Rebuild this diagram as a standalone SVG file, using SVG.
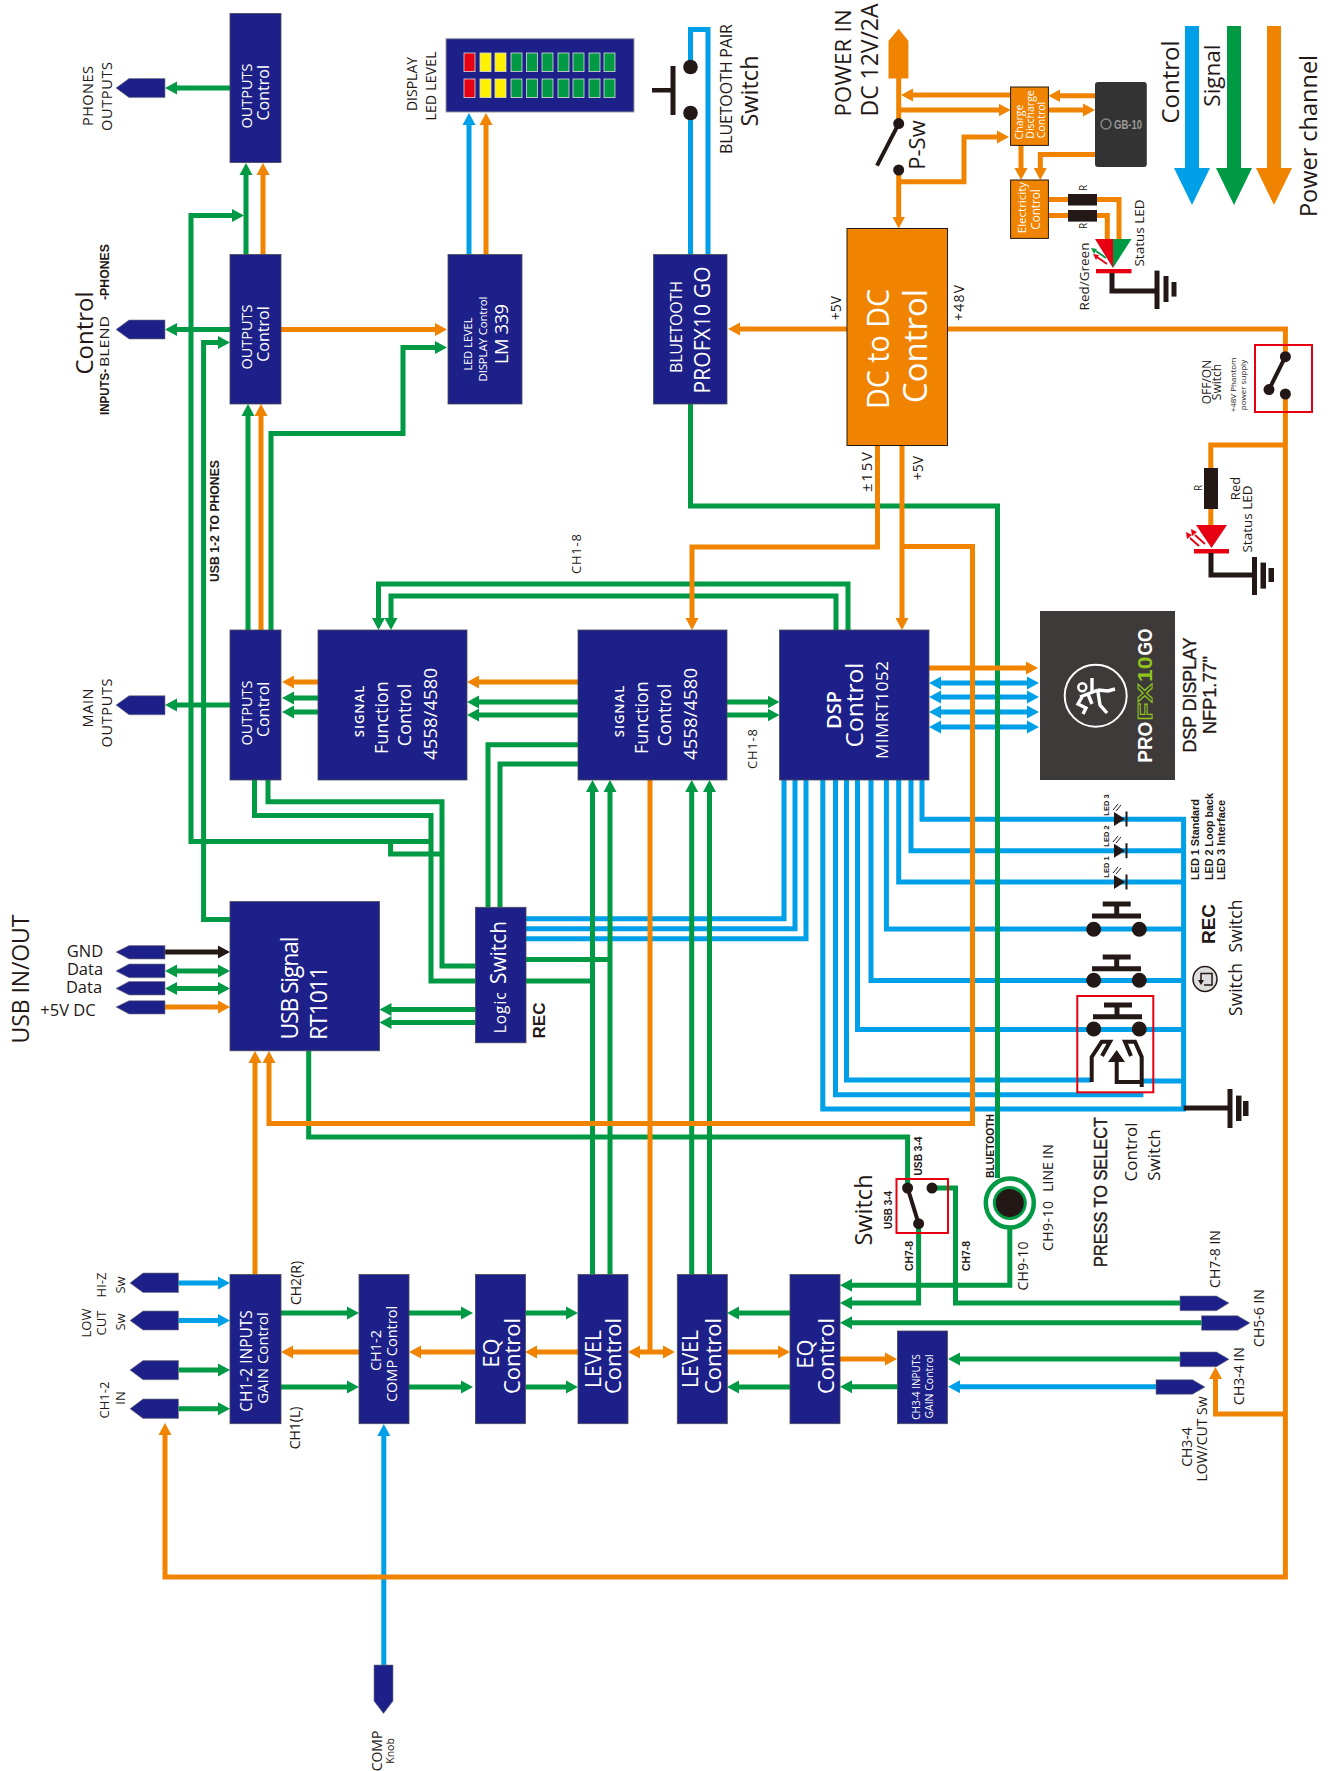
<svg xmlns="http://www.w3.org/2000/svg" width="1330" height="1771" viewBox="0 0 1330 1771">
<style>
text{font-family:"Open Sans","Noto Sans",sans-serif;text-anchor:middle;fill:#231815}
text.w{fill:#fff}
text.b{font-family:"Liberation Sans",Arial,sans-serif;font-weight:700}
.box{fill:#1d2088;stroke:#4a4a55;stroke-width:.8}
.obox{fill:#f08300;stroke:#231815;stroke-width:1}
.tag{fill:#1d2088;stroke:#777;stroke-width:.6}
.g,.o,.u,.k{fill:none;stroke-width:5}
.g{stroke:#009944}.o{stroke:#f08300}.u{stroke:#00a0e9}.k{stroke:#231815}
.g.a{marker-end:url(#mg)}.o.a{marker-end:url(#mo)}.u.a{marker-end:url(#mu)}.k.a{marker-end:url(#mk)}
.g.d{marker-start:url(#mg);marker-end:url(#mg)}.o.d{marker-start:url(#mo);marker-end:url(#mo)}.u.d{marker-start:url(#mu);marker-end:url(#mu)}
.dot{fill:#231815}
.red{fill:none;stroke:#e60012;stroke-width:2}
.blk{fill:#231815}
.sym{fill:none;stroke:#231815;stroke-width:4}
</style>
<defs>
<marker id="mg" markerUnits="userSpaceOnUse" markerWidth="14" markerHeight="15" refX="6" refY="7" orient="auto-start-reverse"><path d="M0 .5L12 7L0 13.5z" fill="#009944"/></marker>
<marker id="mo" markerUnits="userSpaceOnUse" markerWidth="14" markerHeight="15" refX="6" refY="7" orient="auto-start-reverse"><path d="M0 .5L12 7L0 13.5z" fill="#f08300"/></marker>
<marker id="mu" markerUnits="userSpaceOnUse" markerWidth="14" markerHeight="15" refX="6" refY="7" orient="auto-start-reverse"><path d="M0 .5L12 7L0 13.5z" fill="#00a0e9"/></marker>
<marker id="mk" markerUnits="userSpaceOnUse" markerWidth="14" markerHeight="15" refX="6" refY="7" orient="auto-start-reverse"><path d="M0 .5L12 7L0 13.5z" fill="#231815"/></marker>
</defs>
<g id="connectors">
<g id="control-lines">
<path class="u" d="M690.5 254.5V113M690.5 67V29.5H708V254.5"/>
<path class="u a" d="M469 254.5V119"/>
<path class="u" d="M526 918.8H784V780M526 928.7H795V780M526 938.7H806V780"/>
<path class="u" d="M922 780V819.3H1183.6V1109H822.8V780M911 780V850.7H1183.6M898.7 780V882H1183.6M886.4 780V929H1183.6M871 780V980.4H1183.6M857.5 780V1029.4H1183.6M846.5 780V1080H1091M1143 1081H1183.6M835.5 780V1094.8H1143.4"/>
<path class="u d" d="M935 683H1033"/><path class="u d" d="M935 697H1033"/><path class="u d" d="M935 712H1033"/><path class="u d" d="M935 727H1033"/>
<path class="u a" d="M178.5 1283H224"/><path class="u a" d="M178.5 1320.4H224"/>
<path class="u a" d="M383.8 1665V1430"/>
<path class="u a" d="M1156 1386.7H954"/>
</g>
<g id="signal-lines">
<path class="g a" d="M230 88H171"/><path class="g a" d="M230 329.5H171"/><path class="g a" d="M246 254.5V169"/>
<path class="g a" d="M431 841.5H191V215.5H238"/><path class="g" d="M442 854H390.6V841.5"/>
<path class="g a" d="M230 919.6H203.6V342.5H224"/>
<path class="g a" d="M248 630V410"/><path class="g a" d="M271 630V433.6H403V347.5H441"/>
<path class="g a" d="M230 705H171"/>
<path class="g a" d="M318 698H288"/><path class="g a" d="M318 712H288"/>
<path class="g a" d="M578 702H473"/><path class="g a" d="M578 715H473"/>
<path class="g a" d="M848 630V584H378.5V624"/><path class="g a" d="M836 630V596H391V624"/>
<path class="g" d="M578 744.7H488V907M578 764H500V907"/>
<path class="g a" d="M727 702H773.5"/><path class="g a" d="M727 715H773.5"/>
<path class="g" d="M254.5 780V815.5H431V981H475.4M268 780V801.7H442V966H475.4"/>
<path class="g a" d="M475.4 1009.5H385.5"/><path class="g a" d="M475.4 1022.5H385.5"/>
<path class="g" d="M526 959.4H610M526 981H592.5"/>
<path class="g a" d="M592.5 1274.5V786"/><path class="g a" d="M610 1274.5V786"/><path class="g a" d="M691.7 1274.5V786"/><path class="g a" d="M709.5 1274.5V786"/>
<path class="g" d="M308.7 1051V1137H907.6V1188"/>
<path class="g" d="M690.5 404V506H997.5V1178"/>
<path class="g d" d="M171 971H224"/><path class="g d" d="M171 988.4H224"/>
<path class="g a" d="M178.5 1370H224"/><path class="g a" d="M178.5 1408.8H224"/>
<path class="g a" d="M281 1313H353"/><path class="g a" d="M281 1387H353"/><path class="g a" d="M409 1313H467"/><path class="g a" d="M409 1387H467"/><path class="g a" d="M525.5 1313H572"/><path class="g a" d="M525.5 1387H572"/>
<path class="g a" d="M790 1313H733"/><path class="g a" d="M790 1387H733"/>
<path class="g a" d="M1009.8 1228V1285.3H846"/><path class="g a" d="M918.6 1223.7V1303H846"/>
<path class="g" d="M932 1188H955.5V1303H1180"/>
<path class="g a" d="M1201.5 1322.7H846"/><path class="g a" d="M897.4 1386.7H846"/><path class="g a" d="M1180 1359H954"/>
</g>
<g id="power-lines">
<path class="k a" d="M165 952H224"/>
<path class="o a" d="M263 254.5V169"/><path class="o a" d="M261 630V410"/><path class="o a" d="M281 329.5H441"/><path class="o a" d="M486 254.5V119"/>
<path class="o a" d="M318 682H288"/><path class="o a" d="M578 682H473"/>
<path class="o a" d="M165 1007H224"/>
<path class="o a" d="M359 1352H287"/><path class="o a" d="M475 1352H415"/><path class="o a" d="M578 1352H531"/>
<path class="o d" d="M634 1352H669"/><path class="o" d="M650 780V1352"/>
<path class="o a" d="M727 1352H784"/><path class="o a" d="M840 1359H891"/>
<path class="o a" d="M1285.4 1414H1215.5V1373"/>
<path class="o" d="M947.5 329H1285.4V357"/><path class="o a" d="M1285.4 394V1577H165V1429"/>
<path class="o a" d="M847 329H734"/>
<path class="o a" d="M877.5 445.5V547H692V624"/>
<path class="o a" d="M902 445.5V624"/><path class="o a" d="M902 546.5H972.5V1123.5H269V1057"/>
<path class="o a" d="M255 1274.5V1057"/>
<path class="o a" d="M929 668H1032"/>
<path class="o" d="M898.7 78V124"/><path class="o a" d="M898.7 170V222.5"/><path class="o a" d="M898.7 181.8H964V137H1003"/>
<path class="o a" d="M1010.6 95H907"/><path class="o a" d="M898.7 110H1004.6"/><path class="o a" d="M1095 95.7H1054.4"/><path class="o a" d="M1048.4 110H1089"/>
<path class="o a" d="M1021 145.4V174"/><path class="o a" d="M1095 154.6H1040.3V174"/>
<path class="o" d="M1048.4 199.4H1119V240M1048.4 215.5H1107.3V240"/>
<path class="o" d="M1285.4 445H1210.8V525"/>
</g>
</g>
<g id="legend">
<polygon fill="#00a0e9" points="1185,26 1199,26 1199,168 1210,168 1192,205 1174,168 1185,168"/>
<polygon fill="#009944" points="1227,26 1241,26 1241,168 1252,168 1234,205 1216,168 1227,168"/>
<polygon fill="#f08300" points="1267,26 1281,26 1281,168 1292,168 1274,205 1256,168 1267,168"/>
<text font-size="24" transform="translate(1179.4 82) rotate(-90)">Control</text>
<text font-size="22.5" transform="translate(1219.7 75.6) rotate(-90)">Signal</text>
<text font-size="23.5" transform="translate(1317 136) rotate(-90)">Power channel</text>
</g>
<g id="outputs-phones"><rect class="box" x="230" y="13.4" width="51" height="149.2"/>
<text class="w" font-size="14.5" transform="translate(252 96) rotate(-90)">OUTPUTS</text><text class="w" font-size="16" transform="translate(268.5 92.8) rotate(-90)">Control</text></g>
<g id="outputs-blend"><rect class="box" x="230" y="254.5" width="51" height="149.5"/>
<text class="w" font-size="14.5" transform="translate(252 337) rotate(-90)">OUTPUTS</text><text class="w" font-size="16" transform="translate(268.5 334) rotate(-90)">Control</text></g>
<g id="outputs-main"><rect class="box" x="230" y="630" width="51" height="150"/>
<text class="w" font-size="14.5" transform="translate(252 713) rotate(-90)">OUTPUTS</text><text class="w" font-size="16" transform="translate(268.5 709.4) rotate(-90)">Control</text></g>
<g id="tag-phones"><polygon class="tag" points="116,88 129,78.5 165,78.5 165,97.6 129,97.6"/>
<text font-size="14.5" transform="translate(92.5 96) rotate(-90)" textLength="60" lengthAdjust="spacing">PHONES</text><text font-size="14.5" transform="translate(112.4 96.5) rotate(-90)" textLength="69" lengthAdjust="spacing">OUTPUTS</text></g>
<g id="tag-blend"><polygon class="tag" points="116,329.5 129,320 165,320 165,339 129,339"/>
<text font-size="24" transform="translate(92.5 333) rotate(-90)">Control</text>
<text class="b" font-size="12" transform="translate(109 392) rotate(-90)" textLength="46" lengthAdjust="spacingAndGlyphs">INPUTS-</text><text font-size="13.5" transform="translate(109 341.5) rotate(-90)" textLength="51" lengthAdjust="spacingAndGlyphs">BLEND</text><text class="b" font-size="12" transform="translate(109 272) rotate(-90)" textLength="56" lengthAdjust="spacingAndGlyphs">-PHONES</text></g>
<g id="tag-main"><polygon class="tag" points="116,705 129,695.7 165,695.7 165,714.8 129,714.8"/>
<text font-size="14.5" transform="translate(92.5 708) rotate(-90)" textLength="39" lengthAdjust="spacing">MAIN</text><text font-size="14.5" transform="translate(112.4 713) rotate(-90)" textLength="69" lengthAdjust="spacing">OUTPUTS</text></g>
<g id="led-display"><rect x="446" y="38.7" width="188" height="73.3" fill="#1d2088" stroke="#999" stroke-width="1"/>
<g stroke="#ddd" stroke-width=".8">
<rect x="464" y="53" width="11" height="18.6" fill="#e60012"/><rect x="480" y="53" width="11" height="18.6" fill="#fff100"/><rect x="495" y="53" width="11" height="18.6" fill="#fff100"/><rect x="511" y="53" width="11" height="18.6" fill="#009944"/><rect x="526.5" y="53" width="11" height="18.6" fill="#009944"/><rect x="542" y="53" width="11" height="18.6" fill="#009944"/><rect x="558" y="53" width="11" height="18.6" fill="#009944"/><rect x="573" y="53" width="11" height="18.6" fill="#009944"/><rect x="589" y="53" width="11" height="18.6" fill="#009944"/><rect x="604" y="53" width="11" height="18.6" fill="#009944"/>
<rect x="464" y="79" width="11" height="18.6" fill="#e60012"/><rect x="480" y="79" width="11" height="18.6" fill="#fff100"/><rect x="495" y="79" width="11" height="18.6" fill="#fff100"/><rect x="511" y="79" width="11" height="18.6" fill="#009944"/><rect x="526.5" y="79" width="11" height="18.6" fill="#009944"/><rect x="542" y="79" width="11" height="18.6" fill="#009944"/><rect x="558" y="79" width="11" height="18.6" fill="#009944"/><rect x="573" y="79" width="11" height="18.6" fill="#009944"/><rect x="589" y="79" width="11" height="18.6" fill="#009944"/><rect x="604" y="79" width="11" height="18.6" fill="#009944"/>
</g>
<text font-size="14" transform="translate(417 84) rotate(-90)">DISPLAY</text><text font-size="14" transform="translate(435.5 86) rotate(-90)" textLength="69" lengthAdjust="spacing">LED LEVEL</text></g>
<g id="lm339"><rect class="box" x="448" y="254.5" width="74" height="149.5"/>
<text class="w" font-size="11" transform="translate(472 344) rotate(-90)" textLength="53" lengthAdjust="spacing">LED LEVEL</text><text class="w" font-size="11.5" transform="translate(487 339) rotate(-90)" textLength="85" lengthAdjust="spacing">DISPLAY Control</text><text class="w" font-size="18.5" transform="translate(507.6 334) rotate(-90)" textLength="60" lengthAdjust="spacing">LM 339</text></g>
<g id="bluetooth"><rect class="box" x="653.5" y="254.5" width="73.5" height="149.5"/>
<text class="w" font-size="16" transform="translate(682 327) rotate(-90)" textLength="92" lengthAdjust="spacing">BLUETOOTH</text><text class="w" font-size="21" transform="translate(709.5 330) rotate(-90)" textLength="127" lengthAdjust="spacing">PROFX10 GO</text></g>
<g id="bt-pair-switch"><circle class="dot" cx="690.5" cy="67" r="7.3"/><circle class="dot" cx="690.5" cy="113" r="7.3"/>
<rect class="blk" x="670.5" y="66" width="5" height="49"/><rect class="blk" x="652" y="88" width="20" height="4.5"/>
<text font-size="16" transform="translate(732 89) rotate(-90)" textLength="130" lengthAdjust="spacing">BLUETOOTH PAIR</text><text font-size="23.5" transform="translate(757.5 91) rotate(-90)">Switch</text></g>
<g id="dc-dc"><rect class="obox" x="847" y="228.5" width="100.5" height="217"/>
<text class="w" font-size="31" transform="translate(888.5 349) rotate(-90)" textLength="120" lengthAdjust="spacingAndGlyphs">DC to DC</text><text class="w" font-size="33" transform="translate(926.6 346) rotate(-90)">Control</text>
<text font-size="14" transform="translate(841 308) rotate(-90)">+5V</text><text font-size="14" transform="translate(964 303) rotate(-90)" textLength="36" lengthAdjust="spacing">+48V</text><text font-size="15" transform="translate(871.5 472) rotate(-90)" textLength="40" lengthAdjust="spacing">±15V</text><text font-size="14" transform="translate(923 468) rotate(-90)">+5V</text></g>
<g id="power-in"><polygon fill="#f08300" points="898.7,28.7 908.4,41 908.4,78.5 888.5,78.5 888.5,41"/>
<text font-size="22" transform="translate(850.7 63) rotate(-90)" textLength="107" lengthAdjust="spacing">POWER IN</text><text font-size="23" transform="translate(878 60) rotate(-90)" textLength="113" lengthAdjust="spacing">DC 12V/2A</text></g>
<g id="p-sw"><circle class="dot" cx="898.7" cy="123.6" r="5.5"/><circle class="dot" cx="898.7" cy="170" r="5.5"/><path class="k" style="stroke-width:4" d="M898.7 123.6L877 165.7"/>
<text font-size="22" transform="translate(924.5 145) rotate(-90)">P-Sw</text></g>
<g id="charge"><rect class="obox" x="1010.6" y="87" width="37.8" height="58.4"/>
<text class="w" font-size="10.5" transform="translate(1022.5 122) rotate(-90)">Charge</text><text class="w" font-size="10.5" transform="translate(1034 114.5) rotate(-90)">Discharge</text><text class="w" font-size="10.5" transform="translate(1044.6 120) rotate(-90)">Control</text></g>
<g id="battery"><rect x="1095" y="82" width="51.8" height="85" rx="3" fill="#333"/><circle cx="1106" cy="124" r="5" fill="none" stroke="#888" stroke-width="1.5"/>
<text class="b" font-size="12.5" style="fill:#999" x="1128" y="128.5" textLength="28" lengthAdjust="spacingAndGlyphs">GB-10</text></g>
<g id="electricity"><rect class="obox" x="1010.6" y="180" width="37.8" height="58.4"/>
<text class="w" font-size="11.5" transform="translate(1025.5 207.6) rotate(-90)">Electricity</text><text class="w" font-size="11.7" transform="translate(1039.5 209.5) rotate(-90)">Control</text></g>
<g id="status-led">
<rect class="blk" x="1068" y="194" width="29" height="11.5"/><rect class="blk" x="1068" y="210" width="29" height="11.6"/>
<polygon fill="#e60012" points="1095,239 1113,239 1113,268"/><polygon fill="#009944" points="1113,239 1131.5,239 1113,268"/>
<rect x="1096" y="269" width="35.5" height="4.3" fill="#e60012"/>
<path d="M1107 264L1097 257" stroke="#e60012" stroke-width="1.8" fill="none"/><path d="M1106 258L1096 251" stroke="#009944" stroke-width="1.8" fill="none"/>
<polygon fill="#e60012" points="1093,254 1099,255 1096,260"/><polygon fill="#009944" points="1091,248 1097,249 1094,254"/>
<path class="k" d="M1112 273V291H1157"/><rect class="blk" x="1154.5" y="270.6" width="5" height="38.4"/><rect class="blk" x="1163.5" y="276" width="5" height="26"/><rect class="blk" x="1171.5" y="282" width="5" height="14.6"/>
<text font-size="10" transform="translate(1087 188) rotate(-90)">R</text><text font-size="10" transform="translate(1087 226) rotate(-90)">R</text>
<text font-size="13.5" transform="translate(1144 233) rotate(-90)">Status LED</text><text font-size="13.5" transform="translate(1089 276.5) rotate(-90)">Red/Green</text></g>
<g id="phantom-switch"><rect class="red" x="1255" y="345" width="57" height="67"/><circle class="dot" cx="1285.4" cy="356.7" r="5.5"/><circle class="dot" cx="1285.4" cy="394" r="5.5"/><circle class="dot" cx="1269" cy="389.6" r="5.5"/><path class="k" d="M1269 389.6L1285.4 356.7" style="stroke-width:4"/>
<text font-size="12" transform="translate(1211 382) rotate(-90)">OFF/ON</text><text font-size="12" transform="translate(1221.4 382) rotate(-90)">Switch</text><text font-size="8" transform="translate(1236 385) rotate(-90)">+48V Phantom</text><text font-size="8" transform="translate(1246 385) rotate(-90)">power supply</text></g>
<g id="red-led"><rect class="blk" x="1204" y="468" width="14" height="41"/>
<polygon fill="#e60012" points="1196,525 1227,525 1211.5,548"/><rect x="1194" y="549" width="35" height="4.5" fill="#e60012"/>
<path d="M1205 544L1195 535M1199 546L1190 538" stroke="#e60012" stroke-width="1.8" fill="none"/><polygon fill="#e60012" points="1191,529 1197,532 1192,536"/><polygon fill="#e60012" points="1186,532 1192,535 1187,539"/>
<path class="k" d="M1211 553V575H1254.5"/><rect class="blk" x="1252" y="557" width="5" height="38"/><rect class="blk" x="1260.5" y="562.6" width="5.5" height="26"/><rect class="blk" x="1268.5" y="568" width="5.5" height="14"/>
<text font-size="10" transform="translate(1202 488) rotate(-90)">R</text><text font-size="13" transform="translate(1239.6 488.5) rotate(-90)">Red</text><text font-size="13.5" transform="translate(1252 519) rotate(-90)">Status LED</text></g>
<g id="signal1"><rect class="box" x="318" y="630" width="149" height="150"/>
<text class="w" font-size="13" style="font-weight:600;letter-spacing:1px" transform="translate(364 711) rotate(-90)">SIGNAL</text><text class="w" font-size="18" transform="translate(388 717.6) rotate(-90)">Function</text><text class="w" font-size="18" transform="translate(411.4 715) rotate(-90)">Control</text><text class="w" font-size="18.5" transform="translate(436.8 714) rotate(-90)" textLength="92" lengthAdjust="spacing">4558/4580</text></g>
<g id="signal2"><rect class="box" x="578" y="630" width="149" height="150"/>
<text class="w" font-size="13" style="font-weight:600;letter-spacing:1px" transform="translate(624 711) rotate(-90)">SIGNAL</text><text class="w" font-size="18" transform="translate(648 717.6) rotate(-90)">Function</text><text class="w" font-size="18" transform="translate(671.4 715) rotate(-90)">Control</text><text class="w" font-size="18.5" transform="translate(696.8 714) rotate(-90)" textLength="92" lengthAdjust="spacing">4558/4580</text></g>
<g id="dsp"><rect class="box" x="779.5" y="630" width="149.5" height="150"/>
<text class="w" font-size="20" style="font-weight:600" transform="translate(841 710) rotate(-90)">DSP</text><text class="w" font-size="24.5" transform="translate(863 705) rotate(-90)">Control</text><text class="w" font-size="17" transform="translate(887.6 710) rotate(-90)" textLength="98" lengthAdjust="spacing">MIMRT1052</text></g>
<text font-size="13" transform="translate(581 554) rotate(-90)" textLength="40" lengthAdjust="spacing">CH1-8</text>
<text font-size="13" transform="translate(756.6 749) rotate(-90)" textLength="40" lengthAdjust="spacing">CH1-8</text>
<text class="b" font-size="12" transform="translate(219 521) rotate(-90)" textLength="122" lengthAdjust="spacingAndGlyphs">USB 1-2 TO PHONES</text>
<g id="dsp-display"><rect x="1040" y="611" width="135" height="169" fill="#3e3a39"/>
<circle cx="1095.7" cy="695.7" r="31" fill="none" stroke="#fff" stroke-width="2"/>
<circle cx="1082.3" cy="687.3" r="4" fill="none" stroke="#fff" stroke-width="2.5"/>
<path d="M1080 697L1098 690M1092 691V678M1098 690L1108 691L1115 689M1098 692L1100 705L1107 713M1082 697L1078 704L1086 708L1083 714M1088 694L1092 704" fill="none" stroke="#fff" stroke-width="3.4"/>
<text class="b" font-size="21" style="fill:#fff;text-anchor:start" transform="translate(1151.6 762.7) rotate(-90)" textLength="41" lengthAdjust="spacingAndGlyphs">PRO</text>
<text class="b" font-size="21" style="fill:none;stroke:#8fc31f;stroke-width:1;text-anchor:start" transform="translate(1151.6 720.5) rotate(-90)" textLength="37" lengthAdjust="spacingAndGlyphs">FX</text>
<text class="b" font-size="21" style="fill:#8fc31f;text-anchor:start" transform="translate(1151.6 682) rotate(-90)" textLength="25.5" lengthAdjust="spacingAndGlyphs">10</text>
<text class="b" font-size="21" style="fill:#fff;text-anchor:start" transform="translate(1151.6 655.5) rotate(-90)" textLength="27" lengthAdjust="spacingAndGlyphs">GO</text>
<text class="b" font-size="19" style="font-weight:400;stroke:#231815;stroke-width:.35" transform="translate(1196 695) rotate(-90)" textLength="115" lengthAdjust="spacingAndGlyphs">DSP DISPLAY</text><text class="b" font-size="19" style="font-weight:400;stroke:#231815;stroke-width:.35" transform="translate(1216 695) rotate(-90)" textLength="78" lengthAdjust="spacingAndGlyphs">NFP1.77"</text></g>
<g id="usb-io">
<polygon class="tag" points="116,952 129,945.6 165,945.6 165,959 129,959"/><polygon class="tag" points="116,971 129,964 165,964 165,977.7 129,977.7"/><polygon class="tag" points="116,988.4 129,981.5 165,981.5 165,995 129,995"/><polygon class="tag" points="116,1007 129,1000.7 165,1000.7 165,1014 129,1014"/>
<text font-size="23" transform="translate(29 979) rotate(-90)" textLength="129" lengthAdjust="spacing">USB IN/OUT</text>
<text font-size="16.5" x="85" y="957">GND</text><text font-size="16.5" x="85" y="975">Data</text><text font-size="16.5" x="84" y="993.4">Data</text><text font-size="16.5" x="68" y="1016.4">+5V DC</text></g>
<g id="usb-signal"><rect class="box" x="230" y="901.6" width="149.5" height="149.2"/>
<text class="w" font-size="23" transform="translate(298 988) rotate(-90)" textLength="103" lengthAdjust="spacing">USB Signal</text><text class="w" font-size="23" transform="translate(326.5 1003) rotate(-90)" textLength="74" lengthAdjust="spacing">RT1011</text></g>
<g id="logic-switch"><rect class="box" x="475.4" y="907.3" width="50.6" height="135.5"/>
<text class="w" font-size="15.5" transform="translate(506 1012.8) rotate(-90)" textLength="41" lengthAdjust="spacing">Logic</text><text class="w" font-size="22" transform="translate(506 952.5) rotate(-90)" textLength="63" lengthAdjust="spacingAndGlyphs">Switch</text>
<text class="b" font-size="17" transform="translate(545 1020.5) rotate(-90)">REC</text></g>
<g id="led-indicators">
<g id="led3"><polygon class="blk" points="1114,812 1114,826 1125,819"/><rect class="blk" x="1125.5" y="811.5" width="2" height="15"/><path d="M1113 810l5-6M1116 811l5-6" stroke="#231815" fill="none"/></g>
<g id="led2"><polygon class="blk" points="1114,843.7 1114,857.7 1125,850.7"/><rect class="blk" x="1125.5" y="843.2" width="2" height="15"/><path d="M1113 842l5-6M1116 843l5-6" stroke="#231815" fill="none"/></g>
<g id="led1"><polygon class="blk" points="1114,875 1114,889 1125,882"/><rect class="blk" x="1125.5" y="874.5" width="2" height="15"/><path d="M1113 873l5-6M1116 874l5-6" stroke="#231815" fill="none"/></g>
<text class="b" font-size="7.5" transform="translate(1109.3 805) rotate(-90)">LED 3</text><text class="b" font-size="7.5" transform="translate(1109.3 836) rotate(-90)">LED 2</text><text class="b" font-size="7.5" transform="translate(1109.3 867) rotate(-90)">LED 1</text>
<text class="b" font-size="11.5" style="text-anchor:start" transform="translate(1199 880) rotate(-90)" textLength="81" lengthAdjust="spacingAndGlyphs">LED 1 Standard</text><text class="b" font-size="11.5" style="text-anchor:start" transform="translate(1212.7 880) rotate(-90)" textLength="87" lengthAdjust="spacingAndGlyphs">LED 2 Loop back</text><text class="b" font-size="11.5" style="text-anchor:start" transform="translate(1224.7 880) rotate(-90)" textLength="80" lengthAdjust="spacingAndGlyphs">LED 3 Interface</text></g>
<g id="rec-switch"><circle class="dot" cx="1093.7" cy="929.3" r="7.5"/><circle class="dot" cx="1139.3" cy="929.3" r="7.5"/><path class="sym" style="stroke-width:5" d="M1092 916H1141M1116.7 916V904M1102.7 904H1130.7"/>
<text class="b" font-size="19" transform="translate(1215 924) rotate(-90)">REC</text><text font-size="17.5" transform="translate(1242 926) rotate(-90)">Switch</text></g>
<g id="loop-switch"><circle class="dot" cx="1093.7" cy="980.3" r="7.5"/><circle class="dot" cx="1139.3" cy="980.3" r="7.5"/><path class="sym" style="stroke-width:5" d="M1092 968.7H1141M1116.7 968.7V957M1102.7 957H1130.7"/>
<ellipse cx="1205" cy="979" rx="12" ry="12.5" fill="#ddd" stroke="#231815" stroke-width="1.5"/><path d="M1201 981V973.5H1212V985H1204" fill="none" stroke="#231815" stroke-width="1.5"/><polygon class="blk" points="1198,980 1204,980 1201,985"/>
<text font-size="17.5" transform="translate(1242.3 989.5) rotate(-90)">Switch</text></g>
<g id="press-switch"><rect class="red" x="1077.3" y="996" width="76" height="96.3"/><circle class="dot" cx="1093.7" cy="1029" r="7.5"/><circle class="dot" cx="1139.3" cy="1029" r="7.5"/><path class="sym" style="stroke-width:5" d="M1093 1016.7H1142M1117 1016.7V1005M1104 1005H1132"/>
<path class="sym" d="M1091.7 1082V1057L1101.7 1041.7H1110L1102 1056M1141.7 1087V1057L1135 1041.7H1125L1131 1056M1116.7 1060V1082H1141"/><polygon class="blk" points="1108,1062 1125,1062 1116.7,1050"/>
<text class="b" font-size="18" style="font-weight:400;stroke:#231815;stroke-width:.4" transform="translate(1107 1192) rotate(-90)" textLength="150" lengthAdjust="spacingAndGlyphs">PRESS TO SELECT</text><text font-size="17" transform="translate(1137 1152) rotate(-90)">Control</text><text font-size="17" transform="translate(1160 1155) rotate(-90)">Switch</text></g>
<g id="dsp-ground"><path class="k" d="M1183.6 1108H1230"/><rect class="blk" x="1227.5" y="1089" width="5" height="39"/><rect class="blk" x="1236" y="1095.6" width="5.5" height="25.4"/><rect class="blk" x="1243" y="1101" width="5.5" height="15"/></g>
<g id="usb34-switch"><rect class="red" x="896.5" y="1179" width="51.5" height="54"/><circle class="dot" cx="907.6" cy="1188" r="5.5"/><circle class="dot" cx="932" cy="1188" r="5.5"/><circle class="dot" cx="918.6" cy="1223.7" r="5.5"/><path class="k" style="stroke-width:4" d="M907.6 1188L918.6 1223.7"/>
<text font-size="23.5" transform="translate(871.5 1210) rotate(-90)">Switch</text>
<text class="b" font-size="11" transform="translate(921.6 1156) rotate(-90)" textLength="39" lengthAdjust="spacingAndGlyphs">USB 3-4</text><text class="b" font-size="11" transform="translate(892 1210) rotate(-90)" textLength="38" lengthAdjust="spacingAndGlyphs">USB 3-4</text><text class="b" font-size="11" transform="translate(913 1256) rotate(-90)" textLength="30" lengthAdjust="spacingAndGlyphs">CH7-8</text><text class="b" font-size="11" transform="translate(970.3 1256) rotate(-90)" textLength="30" lengthAdjust="spacingAndGlyphs">CH7-8</text></g>
<g id="line-in-jack"><ellipse cx="1009.8" cy="1203" rx="24" ry="24.5" fill="#fff" stroke="#009944" stroke-width="4.5"/><circle cx="1009.8" cy="1203" r="17" fill="#009944"/><circle cx="1009.8" cy="1203" r="14" fill="#231815"/>
<text class="b" font-size="11" transform="translate(993.7 1146) rotate(-90)" textLength="64" lengthAdjust="spacingAndGlyphs">BLUETOOTH</text><text font-size="14" transform="translate(1027.6 1266) rotate(-90)" textLength="49" lengthAdjust="spacing">CH9-10</text><text font-size="14" transform="translate(1053 1226) rotate(-90)" textLength="50" lengthAdjust="spacing">CH9-10</text><text font-size="14" transform="translate(1053 1168) rotate(-90)">LINE IN</text></g>
<g id="inputs-ch12"><polygon class="tag" points="130,1283 143,1273 178.5,1273 178.5,1292.5 143,1292.5"/><polygon class="tag" points="130,1320.4 143,1311 178.5,1311 178.5,1330 143,1330"/><polygon class="tag" points="130,1370 143,1360.6 178.5,1360.6 178.5,1379.7 143,1379.7"/><polygon class="tag" points="130,1408.8 143,1399 178.5,1399 178.5,1418.4 143,1418.4"/>
<text font-size="13" transform="translate(106 1285) rotate(-90)">HI-Z</text><text font-size="13" transform="translate(125 1285) rotate(-90)">Sw</text><text font-size="13" transform="translate(91 1323) rotate(-90)">LOW</text><text font-size="13" transform="translate(106 1323) rotate(-90)">CUT</text><text font-size="13" transform="translate(125 1322) rotate(-90)">Sw</text><text font-size="13" transform="translate(109.4 1400) rotate(-90)">CH1-2</text><text font-size="13" transform="translate(125 1398) rotate(-90)">IN</text></g>
<g id="gain-ch12"><rect class="box" x="230" y="1274.5" width="51" height="149.2"/>
<text class="w" font-size="15.5" transform="translate(252 1361) rotate(-90)">CH1-2 INPUTS</text><text class="w" font-size="15" transform="translate(268.4 1358) rotate(-90)">GAIN Control</text>
<text font-size="14" transform="translate(301 1283) rotate(-90)">CH2(R)</text><text font-size="14" transform="translate(300 1428) rotate(-90)">CH1(L)</text></g>
<g id="comp-ch12"><rect class="box" x="359" y="1274.5" width="50" height="149.2"/>
<text class="w" font-size="14.5" transform="translate(381 1350.5) rotate(-90)">CH1-2</text><text class="w" font-size="14.5" transform="translate(397 1354) rotate(-90)">COMP Control</text></g>
<g id="eq1"><rect class="box" x="475.4" y="1274.5" width="50.1" height="149.2"/>
<text class="w" font-size="22" transform="translate(499 1353) rotate(-90)">EQ</text><text class="w" font-size="22" transform="translate(519.5 1356) rotate(-90)">Control</text></g>
<g id="level1"><rect class="box" x="578" y="1274.5" width="50" height="149.2"/>
<text class="w" font-size="21" transform="translate(601 1359) rotate(-90)">LEVEL</text><text class="w" font-size="22" transform="translate(621 1356) rotate(-90)">Control</text></g>
<g id="level2"><rect class="box" x="677.3" y="1274.5" width="50" height="149.2"/>
<text class="w" font-size="21" transform="translate(697.7 1359) rotate(-90)">LEVEL</text><text class="w" font-size="22" transform="translate(721 1356) rotate(-90)">Control</text></g>
<g id="eq2"><rect class="box" x="790" y="1274.5" width="50" height="149.2"/>
<text class="w" font-size="22" transform="translate(813.4 1354) rotate(-90)">EQ</text><text class="w" font-size="22" transform="translate(833.8 1356) rotate(-90)">Control</text></g>
<g id="gain-ch34"><rect class="box" x="897.4" y="1331" width="50" height="92.7"/>
<text class="w" font-size="10" transform="translate(919.5 1387) rotate(-90)">CH3-4 INPUTS</text><text class="w" font-size="10.5" transform="translate(933 1386.5) rotate(-90)">GAIN Control</text></g>
<g id="inputs-right"><polygon class="tag" points="1229,1303 1216.5,1296 1180,1296 1180,1310.7 1216.5,1310.7"/><polygon class="tag" points="1250,1323 1237.5,1315.7 1201.5,1315.7 1201.5,1330.3 1237.5,1330.3"/><polygon class="tag" points="1229,1359.3 1216.5,1352 1180,1352 1180,1366.7 1216.5,1366.7"/><polygon class="tag" points="1205,1387 1192.5,1379.7 1156,1379.7 1156,1394.3 1192.5,1394.3"/>
<text font-size="14" transform="translate(1219.7 1259) rotate(-90)">CH7-8 IN</text><text font-size="14" transform="translate(1264 1318) rotate(-90)">CH5-6 IN</text><text font-size="14" transform="translate(1244 1376) rotate(-90)">CH3-4 IN</text><text font-size="14" transform="translate(1191.7 1447) rotate(-90)">CH3-4</text><text font-size="14" transform="translate(1206.6 1439) rotate(-90)">LOW/CUT Sw</text></g>
<g id="comp-knob"><polygon class="tag" points="374,1665 393,1665 393,1701 383.5,1713.5 374,1701"/>
<text font-size="14" transform="translate(381.7 1751) rotate(-90)">COMP</text><text font-size="10.5" transform="translate(394.4 1751) rotate(-90)">Knob</text></g>
</svg>
